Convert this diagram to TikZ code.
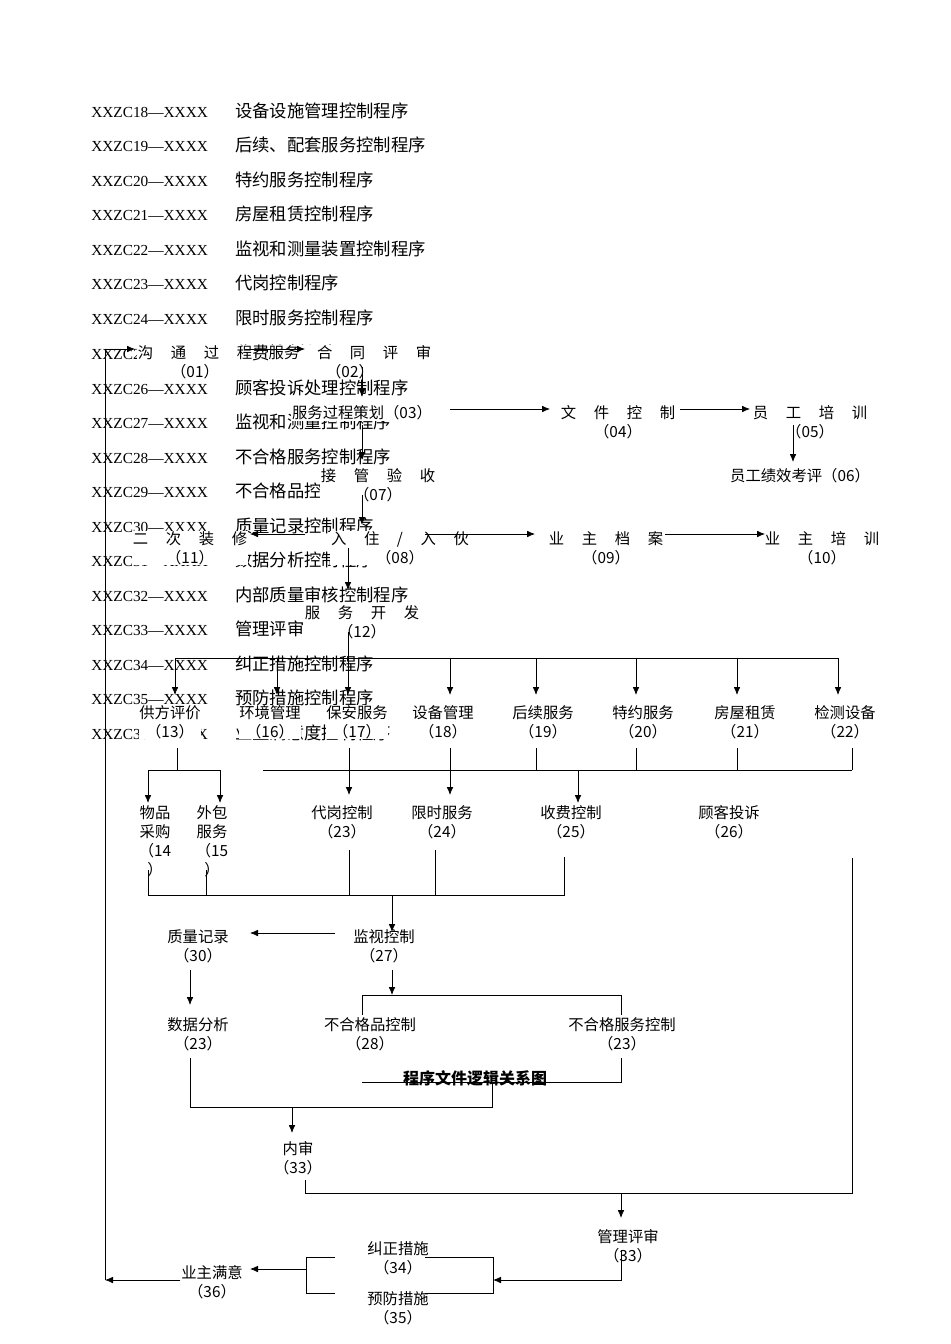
\documentclass[tikz,border=0pt]{standalone}
\usetikzlibrary{arrows.meta}
\usepackage{fontspec}
\setmainfont{Liberation Serif}
\newfontfamily\cjk{Noto Sans CJK SC}
\newcommand{\gp}{\hspace{1.15em}}
\begin{document}
\begin{tikzpicture}[x=0.75pt,y=-0.75pt,
  lst/.style={anchor=base west,inner sep=0pt,font=\fontsize{11.5}{14}\selectfont},
  box/.style={fill=white,inner sep=0.5pt,align=center,font=\cjk\fontsize{11.5}{14.25}\selectfont},
  ln/.style={line width=0.6pt},
  ar/.style={line width=0.6pt,-{Latex[length=6pt,width=5pt]}}]
\useasboundingbox[fill=white] (0,0) rectangle (950,1344);
% background list
\foreach \y/\c/\t [count=\i] in {118/18/设备设施管理控制程序,152/19/后续、配套服务控制程序,187/20/特约服务控制程序,221/21/房屋租赁控制程序,256/22/监视和测量装置控制程序,290/23/代岗控制程序,325/24/限时服务控制程序,359/25/收费控制程序,394/26/顾客投诉处理控制程序,428/27/监视和测量控制程序,463/28/不合格服务控制程序,497/29/不合格品控制程序,532/30/质量记录控制程序,566/31/数据分析控制程序,601/32/内部质量审核控制程序,635/33/管理评审控制程序,670/34/纠正措施控制程序,704/35/预防措施控制程序,739/36/业主满意度控制程序}{
  \node[lst] (c\i) at (91,\y) {XXZC\c—XXXX};
  \node[lst,font=\cjk\fontsize{13}{15}\selectfont] (t\i) at (235,\y) {\t};
}
% diagram nodes
\node[box] (n01) at (195,362) {沟\gp 通\gp 过\gp 程\\（01）};
\node[box] (n02) at (350,362) {服务\gp 合\gp 同\gp 评\gp 审\\（02）};
\node[box] (n03) at (362,413) {服务过程策划（03）};
\node[box] (n04) at (618,422) {文\gp 件\gp 控\gp 制\\（04）};
\node[box] (n05) at (810,422) {员\gp 工\gp 培\gp 训\\（05）};
\node[box] (n06) at (800,476) {员工绩效考评（06）};
\node[box] (n07) at (378,485) {接\gp 管\gp 验\gp 收\\（07）};
\node[box] (n08) at (400,548) {入\gp 住\gp /\gp 入\gp 伙\\（08）};
\node[box] (n11) at (190,548) {二\gp 次\gp 装\gp 修\\（11）};
\node[box] (n09) at (606,548) {业\gp 主\gp 档\gp 案\\（09）};
\node[box] (n10) at (822,548) {业\gp 主\gp 培\gp 训\\（10）};
\node[box] (n12) at (362,622) {服\gp 务\gp 开\gp 发\\（12）};
\foreach \n/\x/\t in {13/170/供方评价,16/270/环境管理,17/357/保安服务,18/443/设备管理,19/543/后续服务,20/643/特约服务,21/745/房屋租赁,22/845/检测设备}
  \node[box] (n\n) at (\x,722) {\t\\（\n）};
\node[box] (n14) at (155,841) {物品\\采购\\（14\\）};
\node[box] (n15) at (212,841) {外包\\服务\\（15\\）};
\foreach \n/\x/\t in {23/342/代岗控制,24/442/限时服务,25/571/收费控制,26/729/顾客投诉}
  \node[box] (n\n) at (\x,822) {\t\\（\n）};
\node[box] (n27) at (384,946) {监视控制\\（27）};
\node[box] (n30) at (198,946) {质量记录\\（30）};
\node[box] (n31) at (198,1034) {数据分析\\（23）};
\node[box] (n28) at (370,1034) {不合格品控制\\（28）};
\node[box] (n32) at (622,1034) {不合格服务控制\\（23）};
\node[box,fill=none,font=\cjk\bfseries\fontsize{12}{14}\selectfont] (title) at (475,1078) {程序文件逻辑关系图};
\node[box] (n33) at (298,1158) {内审\\（33）};
\node[box,fill=none] (n33b) at (628,1246) {管理评审\\（33）};
\node[box] (n34) at (398,1258) {纠正措施\\（34）};
\node[box] (n35) at (398,1308) {预防措施\\（35）};
\node[box] (n36) at (212,1282) {业主满意\\（36）};
% connectors
\coordinate (fb) at (105,349);
\coordinate (fbb) at (105,1280);
\draw[ar] (fbb) -- (fb) -- (135,349);
\draw[ar] (n36.west |- fbb) -- (fbb);
\draw[ar] (245,349) -- (305,349);
\draw[ar] (362,367) -- (362,397);
\draw[ar] (450,409) -- (550,409);
\draw[ar] (680,409) -- (750,409);
\draw[ar] (793,425) -- (793,462);
\draw[ar] (362,425) -- (362,460);
\draw[ar] (362,495) -- (362,525);
\draw[ar] (305,534) -- (250,534);
\draw[ar] (425,534) -- (535,534);
\draw[ar] (665,534) -- (765,534);
\draw[ar] (348,548) -- (348,590);
\draw[ln] (348,632) -- (348,658);
\draw[ln] (175,658) -- (838,658);
\foreach \x in {175,277,348,450,536,636,737,838} \draw[ar] (\x,658) -- (\x,695);
\draw[ln] (177,748) -- (177,770);
\draw[ln] (148,770) -- (220,770);
\draw[ar] (148,770) -- (148,803);
\draw[ar] (220,770) -- (220,803);
\draw[ar] (349,748) -- (349,795);
\draw[ar] (450,748) -- (450,795);
\draw[ln] (263,770) -- (852,770);
\foreach \x in {536,636,737,852} \draw[ln] (\x,748) -- (\x,770);
\draw[ar] (578,770) -- (578,803);
\draw[ln] (148,870) -- (148,895) -- (564,895) -- (564,857);
\draw[ln] (206,870) -- (206,895);
\draw[ln] (349,850) -- (349,895);
\draw[ln] (435,850) -- (435,895);
\draw[ar] (392,895) -- (392,932);
\draw[ar] (335,933) -- (250,933);
\draw[ar] (190,970) -- (190,1005);
\draw[ar] (392,970) -- (392,995);
\draw[ln] (362,1015) -- (362,995) -- (621,995) -- (621,1015);
\draw[ln] (621,1058) -- (621,1082) -- (362,1082);
\draw[ln] (492,1082) -- (492,1107) -- (190,1107) -- (190,1058);
\draw[ar] (292,1107) -- (292,1133);
\draw[ln] (305,1180) -- (305,1193) -- (852,1193) -- (852,858);
\draw[ar] (621,1193) -- (621,1218);
\draw[ar] (621,1250) -- (621,1280) -- (493,1280);
\draw[ln] (425,1257) -- (493,1257) -- (493,1293) -- (425,1293);
\draw[ln] (335,1257) -- (306,1257) -- (306,1293) -- (335,1293);
\draw[ar] (306,1269) -- (250,1269);
\end{tikzpicture}
\end{document}
